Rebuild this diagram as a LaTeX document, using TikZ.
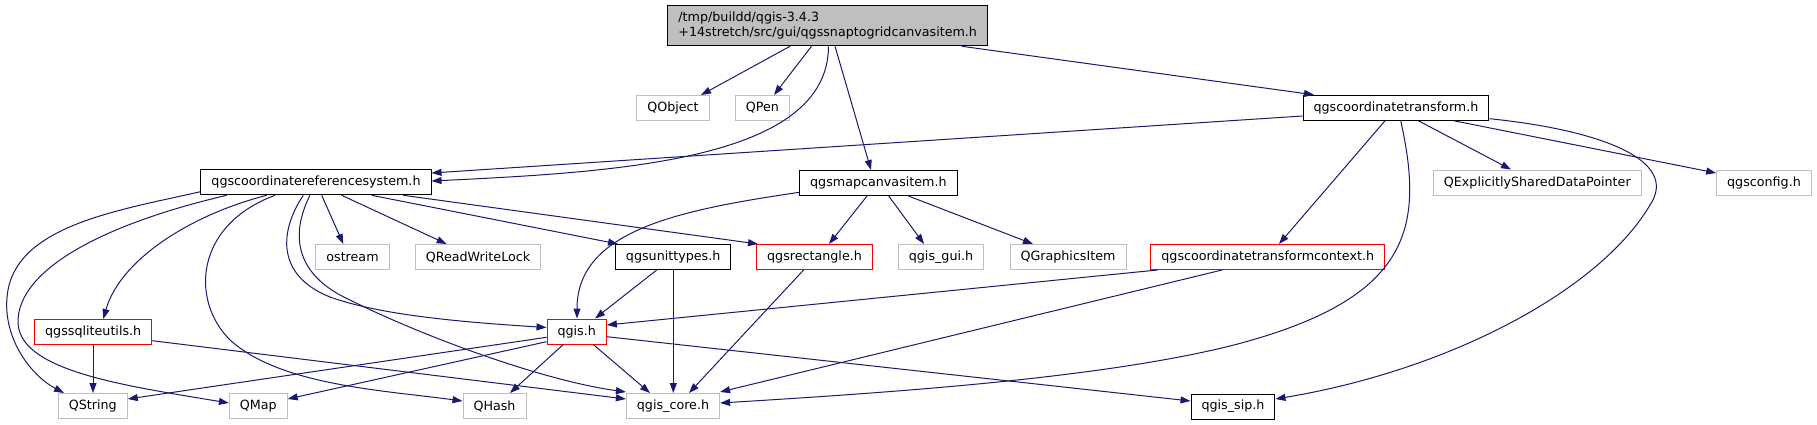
\documentclass[tikz,border=0pt]{standalone}
\usepackage{fontspec}
\setmainfont{DejaVu Sans}
\usetikzlibrary{arrows.meta}
\definecolor{edgeblue}{RGB}{25,25,112}
\definecolor{boxgray}{RGB}{191,191,191}
\begin{document}
\begin{tikzpicture}[x=1pt,y=-1pt,
	hbox/.style={draw,line width=1pt,minimum height=25pt,inner xsep=10.5pt,inner ysep=0pt,font=\fontsize{12.7}{15}\selectfont},
	hgray/.style={hbox,draw=boxgray},
	hred/.style={hbox,draw=red},
	hblack/.style={hbox,draw=black},
	dep/.style={edgeblue,line width=1pt,-{Triangle[length=10pt,width=7pt]}}]
	\useasboundingbox (0,0) rectangle (1817,425);
	\node[hblack,fill=boxgray,align=left,minimum height=40pt] (root) at (827.7,25.8) {/tmp/buildd/qgis-3.4.3\\+14stretch/src/gui/qgssnaptogridcanvasitem.h};
	\node[hgray] (qobject) at (673,108) {QObject};
	\node[hgray] (qpen) at (762.5,108) {QPen};
	\node[hblack] (ct) at (1396,107.8) {qgscoordinatetransform.h};
	\node[hblack] (crs) at (316,182.3) {qgscoordinatereferencesystem.h};
	\node[hblack] (mapitem) at (878.4,183) {qgsmapcanvasitem.h};
	\node[hgray] (qexpl) at (1537.3,182.5) {QExplicitlySharedDataPointer};
	\node[hgray] (qgsconfig) at (1764,182.5) {qgsconfig.h};
	\node[hgray] (ostream) at (352.5,257) {ostream};
	\node[hgray] (qrwlock) at (478,257) {QReadWriteLock};
	\node[hblack] (unittypes) at (673.2,257) {qgsunittypes.h};
	\node[hred] (rectangle) at (814.5,257) {qgsrectangle.h};
	\node[hgray] (qgisgui) at (941,257) {qgis\_gui.h};
	\node[hgray] (qgraphics) at (1068,257) {QGraphicsItem};
	\node[hred] (ctc) at (1267.7,257) {qgscoordinatetransformcontext.h};
	\node[hred] (sqlite) at (93.2,332) {qgssqliteutils.h};
	\node[hred] (qgis) at (576.7,331.5) {qgis.h};
	\node[hgray] (qstring) at (92.8,406) {QString};
	\node[hgray] (qmap) at (258.3,406) {QMap};
	\node[hgray] (qhash) at (494.5,406) {QHash};
	\node[hgray] (qgiscore) at (673,406) {qgis\_core.h};
	\node[hblack] (qgissip) at (1233,406.5) {qgis\_sip.h};

	\draw[dep] (790,0 |- root.south) -- (701,0 |- qobject.north);
	\draw[dep] (811.5,0 |- root.south) -- (774,0 |- qpen.north);
	\draw[dep] (828.5,0 |- root.south) .. controls (828,160) and (620,172) .. (crs.east |- 0,181);
	\draw[dep] (835,0 |- root.south) -- (871,0 |- mapitem.north);
	\draw[dep] (962,0 |- root.south) -- (1314,0 |- ct.north);

	\draw[dep] (ct.west |- 0,116) -- (crs.east |- 0,173);
	\draw[dep] (1385,0 |- ct.south) -- (1279,0 |- ctc.north);
	\draw[dep] (1400.7,0 |- ct.south) .. controls (1425,230) and (1410,300) .. (1230,346) .. controls (1100,378) and (900,392) .. (qgiscore.east |- 0,403);
	\draw[dep] (1418.4,0 |- ct.south) -- (1511,0 |- qexpl.north);
	\draw[dep] (1454,0 |- ct.south) -- (qgsconfig.west |- 0,173);
	\draw[dep] (ct.east |- 0,118.7) .. controls (1600,130) and (1680,160) .. (1650,205) .. controls (1600,290) and (1450,370) .. (qgissip.east |- 0,399);

	\draw[dep] (crs.west |- 0,191.7) .. controls (120,210) and (20,225) .. (8,290) .. controls (0,335) and (30,375) .. (64,0 |- qstring.north);
	\draw[dep] (226.7,0 |- crs.south) .. controls (100,225) and (20,270) .. (18,320) .. controls (16,370) and (120,385) .. (qmap.west |- 0,403);
	\draw[dep] (266.7,0 |- crs.south) .. controls (190,215) and (120,260) .. (103.3,0 |- sqlite.north);
	\draw[dep] (275,0 |- crs.south) .. controls (195,225) and (190,300) .. (230,340) .. controls (280,385) and (380,390) .. (qhash.west |- 0,401);
	\draw[dep] (303.3,0 |- crs.south) .. controls (280,230) and (275,275) .. (330,297) .. controls (380,315) and (460,322) .. (qgis.west |- 0,327.5);
	\draw[dep] (310,0 |- crs.south) .. controls (290,235) and (295,275) .. (350,300) .. controls (420,335) and (540,380) .. (qgiscore.west |- 0,392);
	\draw[dep] (321.7,0 |- crs.south) -- (343.3,0 |- ostream.north);
	\draw[dep] (341.7,0 |- crs.south) -- (446.7,0 |- qrwlock.north);
	\draw[dep] (371.7,0 |- crs.south) -- (618,0 |- unittypes.north);
	\draw[dep] (403.3,0 |- crs.south) -- (758,0 |- rectangle.north);

	\draw[dep] (mapitem.west |- 0,192.3) .. controls (680,210) and (577,230) .. (577,0 |- qgis.north);
	\draw[dep] (867,0 |- mapitem.south) -- (829,0 |- rectangle.north);
	\draw[dep] (888.7,0 |- mapitem.south) -- (924,0 |- qgisgui.north);
	\draw[dep] (908.4,0 |- mapitem.south) -- (1033,0 |- qgraphics.north);

	\draw[dep] (656.7,0 |- unittypes.south) -- (595,0 |- qgis.north);
	\draw[dep] (673.3,0 |- unittypes.south) -- (673.3,0 |- qgiscore.north);
	\draw[dep] (803.6,0 |- rectangle.south) -- (689,0 |- qgiscore.north);
	\draw[dep] (1157.5,0 |- ctc.south) -- (qgis.east |- 0,325);
	\draw[dep] (1222,0 |- ctc.south) -- (qgiscore.east |- 0,392);

	\draw[dep] (93,0 |- sqlite.south) -- (93,0 |- qstring.north);
	\draw[dep] (sqlite.east |- 0,340.7) -- (qgiscore.west |- 0,399);

	\draw[dep] (qgis.west |- 0,337.3) -- (qstring.east |- 0,399);
	\draw[dep] (qgis.west |- 0,341.7) -- (qmap.east |- 0,399);
	\draw[dep] (563.3,0 |- qgis.south) -- (510,0 |- qhash.north);
	\draw[dep] (593.3,0 |- qgis.south) -- (650,0 |- qgiscore.north);
	\draw[dep] (qgis.east |- 0,336.7) -- (qgissip.west |- 0,401);
\end{tikzpicture}
\end{document}
